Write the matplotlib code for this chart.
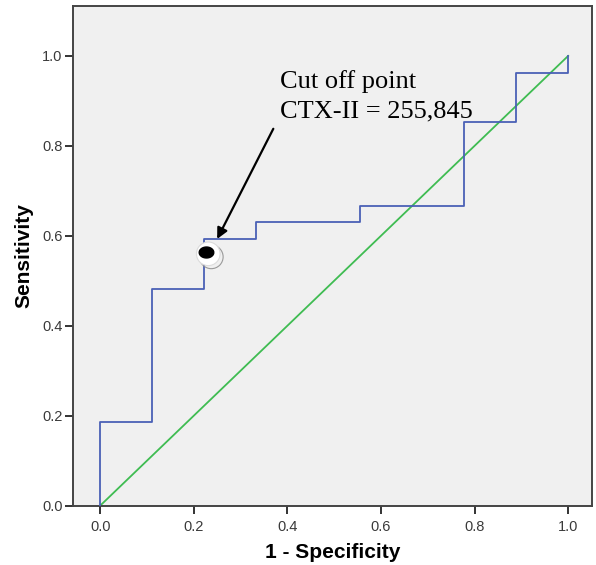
"""ROC curve for CTX-II with the cut off point marked."""

import matplotlib
matplotlib.use("Agg")
import matplotlib.patheffects as pe
from matplotlib import pyplot as plt
from matplotlib.path import Path
import numpy as np

# ROC staircase (1 - specificity, sensitivity)
fpr = [0.0, 0.111, 0.222, 0.333, 0.556, 0.778, 0.889, 1.0, 1.0]
tpr = [0.0, 0.185, 0.481, 0.593, 0.630, 0.667, 0.852, 0.963, 1.0]
ref_line = [0.0, 1.0]

cut_fpr, cut_tpr = 0.231, 0.560
arrow_tip = (0.25, 0.593)
arrow_tail = (0.37, 0.838)
note = "Cut off point\nCTX-II = 255,845"

ticks = [0.0, 0.2, 0.4, 0.6, 0.8, 1.0]
tick_labels = ["0.0", "0.2", "0.4", "0.6", "0.8", "1.0"]

fig = plt.figure(figsize=(5.96, 5.65), dpi=100)
ax = fig.add_axes([0.1233, 0.105, 0.870, 0.8844])
ax.set_facecolor("#f0f0f0")

ax.plot(ref_line, ref_line, color="#3fbc52", lw=1.3, zorder=2)
ax.plot(fpr, tpr, drawstyle="steps-pre", color="#4a60b6", lw=1.3, zorder=3)

# cut off marker: white disc with a soft shadow and a black dot
ax.plot([cut_fpr], [cut_tpr], marker="o", ms=17, mfc="white", mec="#dcdcdc",
        mew=0.8, zorder=4,
        path_effects=[pe.SimpleLineShadow(offset=(2.2, -2.2), shadow_color="#909090", alpha=0.9),
                      pe.Normal()])
theta = np.linspace(0, 2 * np.pi, 60)
dot = Path(np.column_stack([np.cos(theta), 0.75 * np.sin(theta)]))
ax.plot([cut_fpr - 0.005], [cut_tpr + 0.003], marker=dot, ms=10.5, color="black", zorder=5)

ax.annotate(note, xy=arrow_tip, xytext=(0.384, 0.911), textcoords="data",
            fontsize=19, family="Liberation Serif", va="center", ha="left",
            linespacing=1.45, zorder=6)
ax.annotate("", xy=arrow_tip, xytext=arrow_tail,
            arrowprops=dict(arrowstyle="-|>", color="black", lw=1.6,
                            mutation_scale=16, shrinkA=0, shrinkB=0), zorder=6)

ax.set_xlim(-0.057, 1.051)
ax.set_ylim(0.0, 1.111)
ax.set_xticks(ticks, tick_labels)
ax.set_yticks(ticks, tick_labels)
ax.tick_params(direction="out", length=6, width=1.4, color="#333333",
               labelsize=10.5, labelcolor="#3a3a3a", pad=2)
ax.tick_params(axis="x", pad=4)
for lbl in ax.get_xticklabels() + ax.get_yticklabels():
    lbl.set_family("Liberation Sans")
for side in ax.spines.values():
    side.set_color("#444444")
    side.set_linewidth(1.4)

ax.set_xlabel("1 - Specificity", fontsize=15, fontweight="bold",
              family="Liberation Sans", labelpad=7)
ax.set_ylabel("Sensitivity", fontsize=15, fontweight="bold",
              family="Liberation Sans", labelpad=6)

fig.savefig("out.png", dpi=100)
